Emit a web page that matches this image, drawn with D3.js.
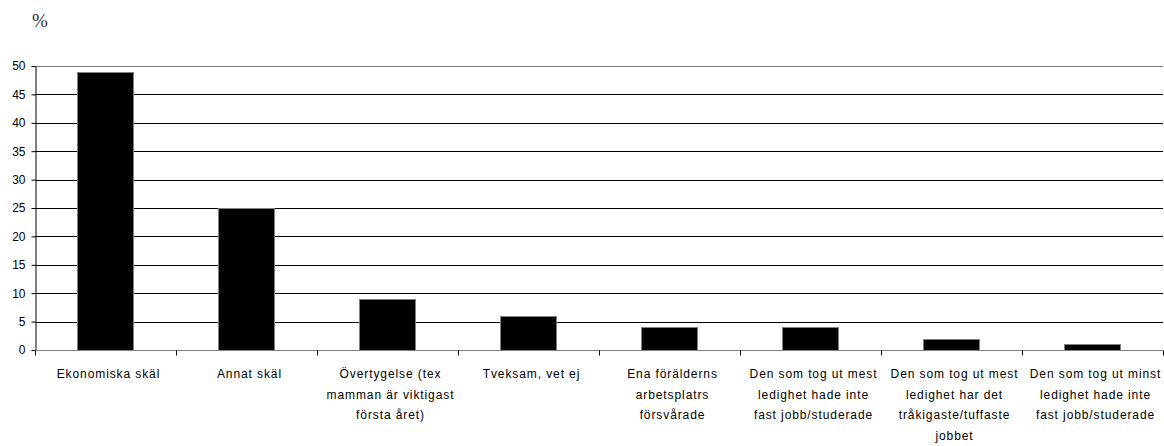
<!DOCTYPE html>
<html><head><meta charset="utf-8">
<script src="https://d3js.org/d3.v7.min.js"></script>
<style>body{margin:0;background:#fff}svg{display:block}</style>
</head><body>
<script>
const categories = [
  ["Ekonomiska skäl"],
  ["Annat skäl"],
  ["Övertygelse (tex", "mamman är viktigast", "första året)"],
  ["Tveksam, vet ej"],
  ["Ena förälderns", "arbetsplatrs", "försvårade"],
  ["Den som tog ut mest", "ledighet hade inte", "fast jobb/studerade"],
  ["Den som tog ut mest", "ledighet har det", "tråkigaste/tuffaste", "jobbet"],
  ["Den som tog ut minst", "ledighet hade inte", "fast jobb/studerade"]
];
const values = [49, 25, 9, 6, 4, 4, 2, 1];
const yTicks = [0, 5, 10, 15, 20, 25, 30, 35, 40, 45, 50];

const W = 1164, H = 446;
const m = {left: 35, right: 1, top: 66, bottom: 96};
const svg = d3.select("body").append("svg").attr("width", W).attr("height", H);

const x = d3.scaleBand().domain(d3.range(categories.length))
  .range([m.left, W - m.right]).paddingInner(0.6).paddingOuter(0.3);
const xOuter = d3.scaleBand().domain(d3.range(categories.length))
  .range([m.left, W - m.right]);
const y = d3.scaleLinear().domain([0, 50]).range([H - m.bottom, m.top]);

// gridlines
svg.append("g").selectAll("line").data(yTicks.filter(d => d > 0 && d < 50)).join("line")
  .attr("x1", m.left).attr("x2", W - m.right)
  .attr("y1", d => Math.round(y(d)) + 0.5).attr("y2", d => Math.round(y(d)) + 0.5)
  .attr("stroke", "#000").attr("stroke-width", 1);
// top border
svg.append("line").attr("x1", m.left).attr("x2", W - m.right)
  .attr("y1", Math.round(y(50)) + 0.5).attr("y2", Math.round(y(50)) + 0.5)
  .attr("stroke", "#808080");

// bars
svg.append("g").selectAll("rect").data(values).join("rect")
  .attr("x", (d, i) => Math.round(x(i)) + 0.5)
  .attr("width", Math.round(x.bandwidth()))
  .attr("y", d => Math.round(y(d)) + 0.5)
  .attr("height", d => Math.round(y(0)) - Math.round(y(d)))
  .attr("fill", "#000").attr("stroke", "#808080").attr("stroke-width", 1);

// y axis
const yAxis = svg.append("g").attr("transform", `translate(${m.left + 0.5},0)`)
  .call(d3.axisLeft(y).tickValues(yTicks).tickSize(4).tickPadding(6).tickSizeOuter(0));
yAxis.select(".domain").attr("stroke", "#000");
yAxis.selectAll("line").attr("stroke", "#000");
yAxis.selectAll("text").attr("font-family", "Liberation Sans, Arial, sans-serif")
  .attr("font-size", 12).attr("fill", "#000");

// x axis
const xAxisG = svg.append("g").attr("transform", `translate(0,${Math.round(y(0)) + 0.5})`);
xAxisG.append("line").attr("x1", m.left).attr("x2", W - m.right).attr("stroke", "#808080");
xAxisG.selectAll("line.tk").data(d3.range(categories.length + 1)).join("line").attr("class", "tk")
  .attr("x1", i => Math.round(m.left + i * xOuter.step()) + 0.5)
  .attr("x2", i => Math.round(m.left + i * xOuter.step()) + 0.5)
  .attr("y1", 0).attr("y2", 5).attr("stroke", "#000");

const lab = svg.append("g").selectAll("text").data(categories).join("text")
  .attr("text-anchor", "middle")
  .attr("font-family", "Liberation Sans, Arial, sans-serif")
  .attr("font-size", 12).attr("letter-spacing", "0.9px").attr("fill", "#000");
lab.each(function(lines, i) {
  const t = d3.select(this);
  lines.forEach((l, j) => {
    t.append("tspan").attr("x", xOuter(i) + xOuter.bandwidth() / 2 + 3)
      .attr("y", 378 + j * 20.5).text(l);
  });
});

// unit label
svg.append("text").attr("x", 32).attr("y", 27).text("%")
  .attr("font-family", "Liberation Serif, Times New Roman, serif")
  .attr("font-size", 19).attr("fill", "#333");
</script>
</body></html>
